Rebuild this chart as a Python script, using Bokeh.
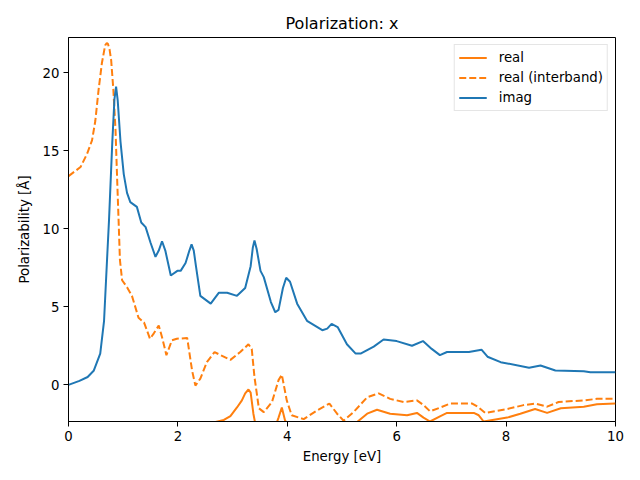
from bokeh.plotting import figure
from bokeh.models import Range1d, Legend, LegendItem, FixedTicker
from bokeh.embed import file_html
from bokeh.resources import INLINE

# imag part
imag_x = [0.0, 0.2, 0.35, 0.46, 0.58, 0.65, 0.71, 0.74, 0.8, 0.84, 0.87, 0.90, 0.95, 1.01, 1.07, 1.13,
          1.25, 1.33, 1.41, 1.5, 1.59, 1.65, 1.71, 1.77, 1.87, 1.99, 2.05, 2.14, 2.21, 2.25, 2.29,
          2.33, 2.41, 2.6, 2.75, 2.9, 3.08, 3.23, 3.33, 3.37, 3.40, 3.44, 3.51, 3.57, 3.7, 3.78,
          3.84, 3.92, 3.98, 4.05, 4.18, 4.36, 4.64, 4.73, 4.81, 4.92, 5.09, 5.25, 5.34, 5.58, 5.76,
          6.0, 6.28, 6.48, 6.64, 6.79, 6.92, 7.32, 7.55, 7.66, 7.9, 8.42, 8.63, 8.9, 9.42, 9.54, 10.0]
imag_y = [0.0, 0.25, 0.5, 0.9, 2.0, 4.1, 8.4, 10.5, 15.5, 18.3, 19.1, 18.2, 15.6, 13.5, 12.3, 11.7,
          11.4, 10.4, 10.1, 9.1, 8.2, 8.6, 9.2, 8.6, 7.0, 7.3, 7.3, 7.8, 8.6, 9.0, 8.6,
          7.6, 5.7, 5.2, 5.9, 5.9, 5.7, 6.2, 7.6, 8.8, 9.25, 8.7, 7.3, 6.9, 5.3, 4.65,
          4.8, 6.2, 6.86, 6.6, 5.2, 4.1, 3.5, 3.6, 3.9, 3.7, 2.6, 2.0, 2.0, 2.45, 2.9,
          2.8, 2.5, 2.8, 2.3, 1.9, 2.1, 2.1, 2.25, 1.8, 1.45, 1.1, 1.24, 0.92, 0.87, 0.8, 0.8]

# real (interband)
inter_x = [0.0, 0.22, 0.34, 0.43, 0.49, 0.55, 0.61, 0.67, 0.70, 0.72, 0.75, 0.78, 0.82, 0.86, 0.89, 0.92,
           0.94, 0.98, 1.07, 1.16, 1.28, 1.38, 1.49, 1.56, 1.65, 1.71, 1.79, 1.89, 1.98, 2.17, 2.26,
           2.32, 2.41, 2.53, 2.67, 2.78, 2.96, 3.14, 3.29, 3.35, 3.40, 3.48, 3.57, 3.72, 3.84, 3.90,
           3.99, 4.08, 4.30, 4.54, 4.77, 4.91, 5.03, 5.21, 5.46, 5.67, 5.88, 6.13, 6.37, 6.49, 6.61,
           6.8, 6.98, 7.38, 7.48, 7.62, 8.02, 8.32, 8.53, 8.75, 8.96, 9.42, 9.66, 10.0]
inter_y = [13.37, 13.95, 14.8, 15.66, 16.9, 18.9, 20.6, 21.75, 21.9, 21.85, 21.5, 20.8, 18.9, 16.3, 13.1, 10.1,
           8.0, 6.7, 6.25, 5.7, 4.3, 4.0, 2.95, 3.3, 3.8, 3.05, 1.9, 2.85, 2.95, 3.0, 0.9,
           -0.05, 0.4, 1.45, 2.1, 1.9, 1.6, 2.1, 2.6, 2.3, 0.5, -1.5, -1.75, -1.1, 0.3, 0.65,
           -1.0, -1.95, -2.2, -1.65, -1.2, -1.85, -2.3, -1.75, -0.8, -0.55, -0.9, -1.1, -1.0, -1.3, -1.7,
           -1.45, -1.2, -1.2, -1.4, -1.8, -1.55, -1.3, -1.2, -1.4, -1.1, -1.0, -0.9, -0.9]

# real (total)
real_x = [0.5, 1.0, 1.5, 2.0, 2.4, 2.67, 2.84, 2.96, 3.08, 3.17, 3.23, 3.29, 3.33, 3.38, 3.41,
          3.55, 3.75, 3.84, 3.90, 3.96, 4.3, 4.8, 5.27, 5.46, 5.64, 5.88, 6.19, 6.37, 6.49, 6.61,
          6.8, 6.92, 7.41, 7.5, 7.59, 8.02, 8.26, 8.53, 8.75, 9.0, 9.42, 9.66, 10.0]
real_y = [-40.0, -12.0, -7.0, -4.5, -3.2, -2.4, -2.25, -2.0, -1.45, -1.0, -0.55, -0.3, -0.5, -1.85, -2.4,
          -3.5, -3.0, -2.1, -1.45, -2.3, -3.4, -3.0, -2.4, -1.85, -1.6, -1.85, -1.95, -1.8, -2.1, -2.35,
          -2.0, -1.8, -1.8, -1.95, -2.35, -2.1, -1.85, -1.55, -1.8, -1.5, -1.4, -1.25, -1.2]

x_ticks = [0, 2, 4, 6, 8, 10]
y_ticks = [0, 5, 10, 15, 20]

ORANGE = "#ff7f0e"
BLUE = "#1f77b4"
FONT = "DejaVu Sans"

p = figure(width=624, height=472, output_backend="svg", toolbar_location=None,
           x_range=Range1d(0, 10), y_range=Range1d(-2.35, 22.25),
           min_border_left=68, min_border_right=9, min_border_top=37, min_border_bottom=51,
           title="Polarization: x")
p.title.align = "center"
p.title.text_font = FONT
p.title.text_font_size = "16px"
p.title.text_font_style = "normal"
p.title.text_color = "black"
p.title.standoff = 9

p.grid.visible = False
p.outline_line_color = "black"
p.outline_line_width = 1
p.outline_line_alpha = 1

for ax in (p.xaxis[0], p.yaxis[0]):
    ax.axis_line_color = "black"
    ax.major_tick_line_color = "black"
    ax.major_tick_out = 5
    ax.major_tick_in = 0
    ax.minor_tick_line_color = None
    ax.major_label_text_font = FONT
    ax.major_label_text_font_size = "13.3px"
    ax.major_label_text_color = "black"
    ax.axis_label_text_font = FONT
    ax.axis_label_text_font_size = "13.3px"
    ax.axis_label_text_font_style = "normal"
    ax.axis_label_text_color = "black"

p.xaxis.ticker = FixedTicker(ticks=x_ticks)
p.yaxis.ticker = FixedTicker(ticks=y_ticks)
p.xaxis.axis_label = "Energy [eV]"
p.yaxis.axis_label = "Polarizability [Å]"
p.xaxis.axis_label_standoff = 5
p.yaxis.axis_label_standoff = 8
p.xaxis.major_label_standoff = 4
p.yaxis.major_label_standoff = 4

r1 = p.line(real_x, real_y, line_color=ORANGE, line_width=2)
r2 = p.line(inter_x, inter_y, line_color=ORANGE, line_width=2, line_dash="7 3")
r3 = p.line(imag_x, imag_y, line_color=BLUE, line_width=2)

legend = Legend(items=[LegendItem(label="real", renderers=[r1]),
                       LegendItem(label="real (interband)", renderers=[r2]),
                       LegendItem(label="imag", renderers=[r3])],
                location="top_right", margin=7, padding=4, spacing=3,
                label_height=17, glyph_height=17, glyph_width=28, label_standoff=12,
                label_text_font=FONT, label_text_font_size="13.3px",
                label_text_color="black",
                border_line_color="#cccccc", border_line_width=1,
                background_fill_alpha=0.8)
p.add_layout(legend)

open("out.html", "w").write(file_html(p, INLINE))
